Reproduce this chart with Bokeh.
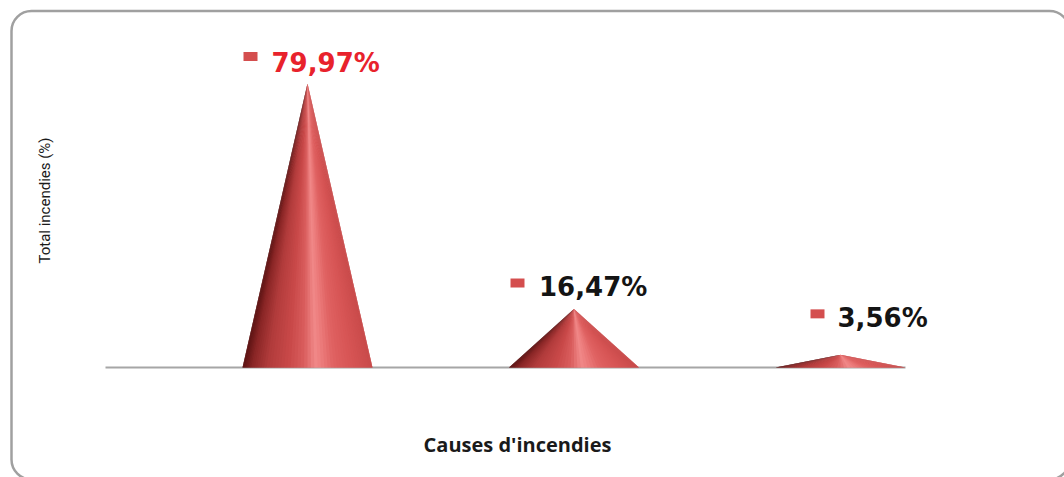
import numpy as np
from bokeh.plotting import figure
from bokeh.models import Range1d, BoxAnnotation, Label, ColumnDataSource
from bokeh.embed import file_html
from bokeh.resources import INLINE
from bokeh.core.properties import value

# ---------------- data ----------------
categories = ["Cause A", "Cause B", "Cause C"]   # category names are not shown in the chart
values = [79.97, 16.47, 3.56]
labels = ["79,97%", "16,47%", "3,56%"]
x_title = "Causes d'incendies"
y_title = "Total incendies (%)"

# ---------------- layout / style ----------------
W, H = 1064, 477
px_per_cat = 266.5
first_center_px = 307.0
base_px = 367.0
px_per_pct = 284.0 / 79.97
cone_half_px = 65.0

label_colors = ["#e8222c", "#141414", "#141414"]
text_dx = [-36, -35, -3]       # screen px from apex
text_dy = [-21, -22.5, -36.5]  # screen px from apex (down positive)
sq_pos_dx = [-57, -56.5, -23]  # square centre from apex
sq_pos_dy = [-27, -26, -41]


def X(px):
    return (px - first_center_px) / px_per_cat


def Y(py):
    return (base_px - py) / px_per_pct


p = figure(width=W, height=H,
           x_range=Range1d(X(0), X(W)), y_range=Range1d(Y(H), Y(0)),
           output_backend="svg", toolbar_location=None,
           x_axis_location=None, y_axis_location=None,
           min_border=0, outline_line_color=None,
           background_fill_color="white", border_fill_color="white")
p.xgrid.visible = False
p.ygrid.visible = False

# rounded chart border
p.add_layout(BoxAnnotation(left=X(11), right=X(1069), top=Y(10.5), bottom=Y(479),
                           fill_color=None, fill_alpha=0, line_color="#a0a0a0",
                           line_alpha=1.0, line_width=2.5, border_radius=20))

# category axis line
p.line(x=[X(105), X(905)], y=[0, 0], line_color="#a6a6a6", line_width=2)

# cone shading
stops_t = np.array([-1.0, -0.85, -0.6, -0.3, -0.05, 0.12, 0.22, 0.4, 0.7, 1.0])
stops_c = np.array([
    [0x5a, 0x12, 0x12],
    [0x8a, 0x26, 0x26],
    [0xb2, 0x3c, 0x3c],
    [0xc8, 0x48, 0x48],
    [0xda, 0x5e, 0x5e],
    [0xf0, 0x88, 0x88],
    [0xec, 0x7c, 0x7c],
    [0xe0, 0x62, 0x62],
    [0xd6, 0x54, 0x54],
    [0xc8, 0x4a, 0x4a],
], dtype=float)


def shade(t):
    rgb = [np.interp(t, stops_t, stops_c[:, k]) for k in range(3)]
    return "#%02x%02x%02x" % tuple(int(round(c)) for c in rgb)


n = 60
theta = np.linspace(-np.pi / 2, np.pi / 2, n + 1)
edges = np.sin(theta)
w = cone_half_px / px_per_cat
xs, ys, cols = [], [], []
for i, v in enumerate(values):
    for k in range(n):
        x1 = i + w * edges[k]
        x2 = i + w * edges[min(k + 2, n)]   # overlap next strip to hide seams
        xs.append([x1, x2, i])
        ys.append([0, 0, v])
        cols.append(shade(0.5 * (edges[k] + edges[k + 1])))
p.patches(xs=xs, ys=ys, fill_color=cols, line_color=None)

# data labels
idx = list(range(len(values)))
src = ColumnDataSource(dict(x=idx, y=values, text=labels, color=label_colors,
                            dx=text_dx, dy=text_dy))
p.text(x="x", y="y", text="text", x_offset="dx", y_offset="dy", text_color="color",
       source=src, text_font=value("DejaVu Sans"), text_font_style="bold",
       text_font_size="26px", text_align="left", text_baseline="alphabetic")

sq_x = [i + sq_pos_dx[i] / px_per_cat for i in idx]
sq_y = [values[i] - sq_pos_dy[i] / px_per_pct for i in idx]
p.rect(x=sq_x, y=sq_y, width=14, height=9, width_units="screen", height_units="screen",
       fill_color="#d44e4e", line_color=None)

# axis titles
p.add_layout(Label(x=X(517), y=Y(444), text=x_title, text_align="center",
                   text_baseline="middle", text_font="Open Sans", text_font_style="bold",
                   text_font_size="20px", text_color="#1a1a1a"))
p.add_layout(Label(x=X(44), y=Y(200), text=y_title, angle=np.pi / 2, text_align="center",
                   text_baseline="middle", text_font="Roboto",
                   text_font_size="15px", text_color="#1a1a1a"))

open("out.html", "w").write(file_html(p, INLINE))
